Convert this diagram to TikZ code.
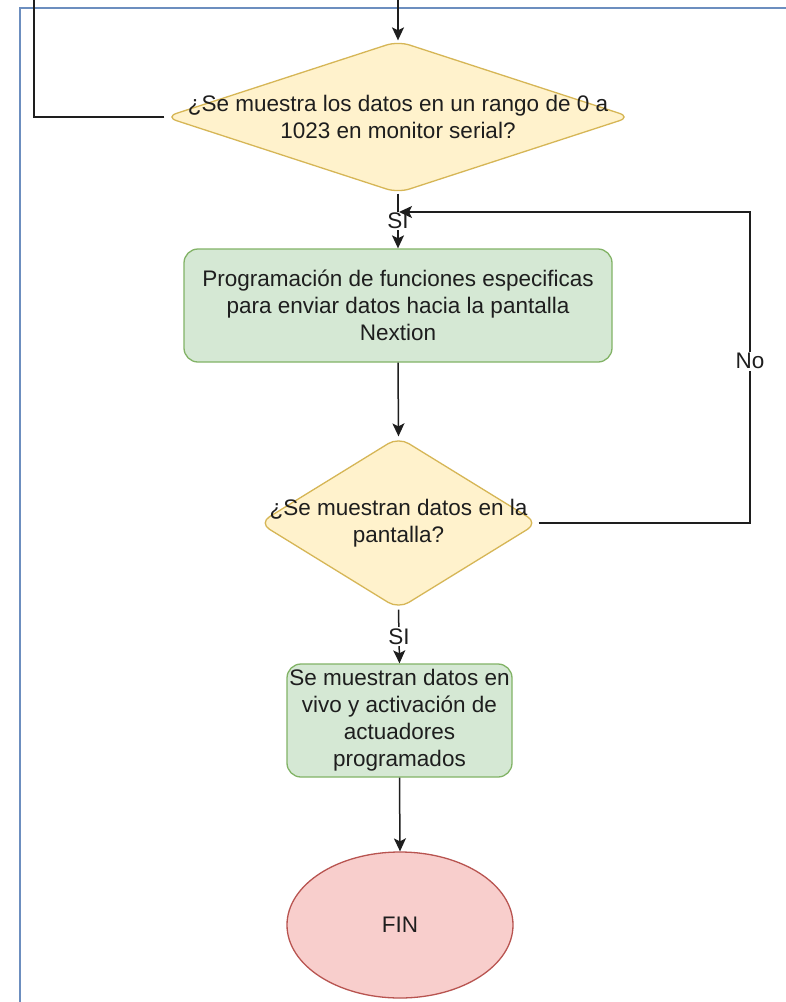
\documentclass[tikz,border=0pt]{standalone}
\usepackage{fontspec}
\setmainfont{Liberation Sans}
\usetikzlibrary{shapes.geometric,arrows.meta}
\definecolor{frameblue}{HTML}{6C8EBF}
\definecolor{decfill}{HTML}{FFF2CC}
\definecolor{decline}{HTML}{D6B656}
\definecolor{procfill}{HTML}{D5E8D4}
\definecolor{procline}{HTML}{82B366}
\definecolor{endfill}{HTML}{F8CECC}
\definecolor{endline}{HTML}{B85450}
\definecolor{ink}{HTML}{1E1E1E}
\tikzset{
  every node/.style={font=\fontsize{22.5}{27}\selectfont, text=ink},
  decision/.style={diamond, draw=decline, fill=decfill, line width=1.3pt,
    inner sep=0pt, rounded corners=12pt},
  procbox/.style={rectangle, draw=procline, fill=procfill, line width=1.3pt,
    rounded corners=14pt, inner sep=0pt},
  endnode/.style={ellipse, draw=endline, fill=endfill, line width=1.3pt, inner sep=0pt},
  label text/.style={align=center, inner sep=0pt},
  flow/.style={draw=ink, line width=1.5pt, -{Stealth[length=13pt,width=12pt,inset=3pt]}},
  plain/.style={draw=ink, line width=1.5pt},
  edgelabel/.style={fill=white, inner sep=1.5pt}
}
\begin{document}
\begin{tikzpicture}[x=1pt,y=-1pt]
\useasboundingbox (0,0) rectangle (786,1002);
\fill[white] (0,0) rectangle (786,1002);

% outer frame of the page region
\draw[frameblue, line width=2pt] (20,1010) -- (20,7.5) -- (800,7.5);

% shapes
\node[decision, minimum width=466pt, minimum height=152pt] (d1) at (398,117) {};
\node[label text] at (d1.center) {¿Se muestra los datos en un rango de 0 a\\1023 en monitor serial?};

\node[procbox, minimum width=428pt, minimum height=113pt] (p1) at (398,305.5) {};
\node[label text] at (p1.center) {Programación de funciones especificas\\para enviar datos hacia la pantalla\\Nextion};

\node[decision, minimum width=279pt, minimum height=172pt] (d2) at (398.5,523) {};
\node[label text] at (d2.center) {¿Se muestran datos en la\\pantalla?};

\node[procbox, minimum width=225pt, minimum height=113pt] (p2) at (399.5,720.5) {};
\node[label text] at (p2.center) {Se muestran datos en\\vivo y activación de\\actuadores\\programados};

\node[endnode, minimum width=226pt, minimum height=146pt] (fin) at (400,925) {};
\node[label text] at (fin.center) {FIN};

% free ends of connectors
\coordinate (topin) at (398,0);
\coordinate (leftcorner) at (34,117);
\coordinate (lefttop) at (34,0);
\coordinate (loopright) at (750,523);
\coordinate (looptop) at (750,212);
\coordinate (join) at (399,212);

% connectors
\draw[flow] (topin) -- (d1.north);
\draw[plain] (d1.west) -- (leftcorner) -- (lefttop);
\draw[flow] (d1.south) -- node[edgelabel] {SI} (p1.north);
\draw[flow] (p1.south) -- (d2.north);
\draw[flow] (d2.east) -- (loopright) -- node[edgelabel, pos=0.52] {No} (looptop) -- (join);
\draw[flow] (d2.south) -- node[edgelabel] {SI} (p2.north);
\draw[flow] (p2.south) -- (fin.north);
\end{tikzpicture}
\end{document}
